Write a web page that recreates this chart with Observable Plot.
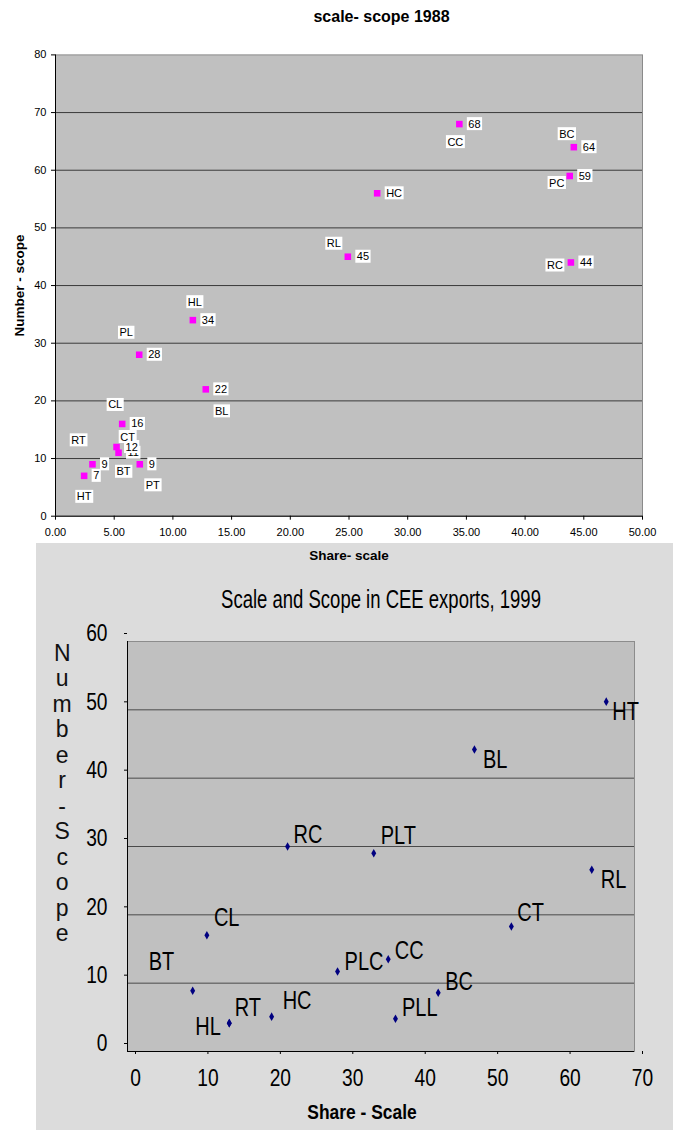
<!DOCTYPE html>
<html>
<head>
<meta charset="utf-8">
<script src="https://cdn.jsdelivr.net/npm/d3@7"></script>
<script src="https://cdn.jsdelivr.net/npm/@observablehq/plot@0.6"></script>
<style>
  html, body { margin: 0; padding: 0; background: #ffffff; }
  #wrap { position: relative; width: 673px; height: 1130px; overflow: hidden; font-family: "Liberation Sans", Arial, sans-serif; }
  #bottom { position: absolute; left: 36px; top: 543px; width: 637px; height: 587px; }
  #topchart { position: absolute; left: 0; top: 0; width: 673px; height: 570px; }
</style>
</head>
<body>
<div id="wrap">
  <div id="bottom"></div>
  <div id="topchart"></div>
</div>
<script>
// ---------- 1988 chart data ----------
const cats88   = ["HT", "RT", "CL", "BT", "CT", "PT", "PL", "HL", "BL", "RL", "HC", "CC", "BC", "PC", "RC"];
const share88  = [2.44, 3.15, 5.68, 5.37, 5.2, 7.18, 7.13, 11.7, 12.8, 24.9, 27.4, 34.4, 44.15, 43.8, 43.9];
const scope88  = [7, 9, 16, 11, 12, 9, 28, 34, 22, 45, 56, 68, 64, 59, 44];
const numLabel88 = ["7", "9", "16", "11", "12", "9", "28", "34", "22", "45", "HC", "68", "64", "59", "44"];
const xTicks88 = [0, 5, 10, 15, 20, 25, 30, 35, 40, 45, 50];
const yTicks88 = [0, 10, 20, 30, 40, 50, 60, 70, 80];

// ---------- 1999 chart data ----------
const cats99  = ["HT", "BL", "RC", "PLT", "RL", "CL", "CT", "BT", "PLC", "CC", "HL", "RT", "HC", "PLL", "BC"];
const share99 = [66.1, 47.9, 22.1, 34.0, 64.1, 10.96, 53.0, 9.0, 29.0, 36.0, 14.05, 14.05, 19.9, 37.0, 42.9];
const scope99 = [51.2, 44.2, 30.0, 29.0, 26.6, 17.0, 18.3, 8.9, 11.7, 13.5, 4.15, 4.15, 5.1, 4.8, 8.6];
const xTicks99 = [0, 10, 20, 30, 40, 50, 60, 70];
const yTicks99 = [0, 10, 20, 30, 40, 50, 60];

// ---------- label placement (pixel offsets, layout only) ----------
const catOffset88 = {
  HT: [0, 21], RT: [-14, -24], CL: [-7, -19], BT: [5, 19], CT: [11, -10], PT: [13, 21],
  PL: [-13, -22], HL: [2, -18], BL: [16, 22], RL: [-14, -13], CC: [-4, 18], BC: [-7, -13],
  PC: [-13, 7], RC: [-16, 3]
};
const catOffset99 = {
  HT: [6, 10], BL: [8.6, 11], RC: [6, -12], PLT: [7, -17], RL: [9, 10], CL: [7, -17],
  CT: [6, -13], BT: [-44, -29], PLC: [7, -10], CC: [6.5, -8], HL: [-34, 4], RT: [5.5, -15],
  HC: [11, -16], PLL: [6.5, -10.6], BC: [7, -10.6]
};

const d88 = cats88.map((c, i) => ({cat: c, share: share88[i], scope: scope88[i], num: numLabel88[i]}));
const d99 = cats99.map((c, i) => ({cat: c, share: share99[i], scope: scope99[i]}));

const FONT = "'Liberation Sans', Arial, Helvetica, sans-serif";

// ---------- Top chart ----------
const catMarks88 = d88.filter(d => catOffset88[d.cat]).map(d =>
  Plot.text([d], {
    x: "share", y: "scope", text: "cat",
    dx: catOffset88[d.cat][0], dy: catOffset88[d.cat][1],
    textAnchor: "middle", lineAnchor: "middle", fontSize: 11, fill: "#000",
    className: "boxed"
  })
);

const chart88 = Plot.plot({
  width: 673, height: 570,
  marginLeft: 55, marginRight: 31, marginTop: 54.4, marginBottom: 54.3,
  style: {background: "transparent", fontFamily: FONT, fontSize: "11px", color: "#000"},
  x: {domain: [0, 50]},
  y: {domain: [0, 80]},
  marks: [
    Plot.frame({fill: "#c0c0c0", stroke: "#8a8a8a"}),
    Plot.ruleY(yTicks88.filter(v => v > 0 && v < 80), {stroke: "#3a3a3a", strokeWidth: 1}),
    Plot.ruleX([0], {stroke: "#000"}),
    Plot.ruleY([0], {stroke: "#000"}),
    Plot.axisX({ticks: xTicks88, tickFormat: d => d.toFixed(2), tickSize: 4, tickPadding: 8, label: null}),
    Plot.axisY({ticks: yTicks88, tickSize: 4, tickPadding: 5, label: null}),
    Plot.dot(d88, {x: "share", y: "scope", symbol: "square", r: 3.7, fill: "#ff00ff", stroke: "none"}),
    Plot.text(d88, {x: "share", y: "scope", text: "num", textAnchor: "start", lineAnchor: "middle",
      dx: 9, fontSize: 11, fill: "#000", className: "boxed"}),
    ...catMarks88,
    Plot.text(["scale- scope 1988"], {text: d => d, frameAnchor: "top", dx: 32.5, dy: -38.4,
      lineAnchor: "middle", fontSize: 16, fontWeight: "bold", fill: "#000"}),
    Plot.text(["Share- scale"], {text: d => d, frameAnchor: "bottom", dy: 39.3,
      lineAnchor: "middle", fontSize: 13.5, fontWeight: "bold", fill: "#000"}),
    Plot.text(["Number - scope"], {text: d => d, frameAnchor: "left", dx: -35.5, dy: 0, rotate: -90,
      lineAnchor: "middle", textAnchor: "middle", fontSize: 13.5, fontWeight: "bold", fill: "#000"})
  ]
});

// ---------- Bottom chart ----------
const catMarks99 = d99.map(d =>
  Plot.text([d], {
    x: "share", y: "scope", text: "cat",
    dx: catOffset99[d.cat][0], dy: catOffset99[d.cat][1],
    textAnchor: "start", lineAnchor: "middle", fontSize: 25, fill: "#000"
  })
);

const chart99 = Plot.plot({
  width: 637, height: 587,
  marginLeft: 91, marginRight: 39, marginTop: 98, marginBottom: 79,
  style: {background: "#dcdcdc", fontFamily: FONT, fontSize: "24px", color: "#000"},
  x: {domain: [0, 70]},
  y: {domain: [0, 60]},
  marks: [
    Plot.frame({fill: "#c0c0c0", stroke: "#8c8c8c"}),
    Plot.ruleY(yTicks99.filter(v => v > 0 && v < 60), {stroke: "#4a4a4a", strokeWidth: 1}),
    Plot.ruleX([0], {stroke: "#000"}),
    Plot.ruleY([0], {stroke: "#000"}),
    Plot.axisX({ticks: xTicks99, tickSize: 3, tickPadding: 14, dx: 8, label: null}),
    Plot.axisY({ticks: yTicks99, tickSize: 3, tickPadding: 17, dy: -8, label: null}),
    Plot.dot(d99, {x: "share", y: "scope", symbol: "diamond", r: 2.6, fill: "#000080", stroke: "none"}),
    ...catMarks99,
    Plot.text(["Scale and Scope in CEE exports, 1999"], {text: d => d, frameAnchor: "top", dy: -42,
      lineAnchor: "middle", fontSize: 25, fill: "#000", className: "sq74"}),
    Plot.text(["Share - Scale"], {text: d => d, frameAnchor: "bottom", dx: -19, dy: 61,
      lineAnchor: "middle", fontSize: 20, fontWeight: "bold", fill: "#000", className: "sq87"}),
    Plot.text(["Number-Scope"], {text: d => d.split("").join("\n"), frameAnchor: "left", dx: -65.3, dy: -53.5,
      lineAnchor: "middle", textAnchor: "middle", lineHeight: 25.5 / 23, fontSize: 23, fill: "#111", className: "nosq"})
  ]
});

document.getElementById("topchart").appendChild(chart88);
document.getElementById("bottom").appendChild(chart99);

// white boxes behind 1988 labels
d3.select(chart88).selectAll("g.boxed text").each(function() {
  const b = this.getBBox();
  const r = document.createElementNS("http://www.w3.org/2000/svg", "rect");
  r.setAttribute("x", b.x - 1.5);
  r.setAttribute("y", b.y - 0.5);
  r.setAttribute("width", b.width + 3);
  r.setAttribute("height", b.height + 1);
  r.setAttribute("fill", "#ffffff");
  const t = this.getAttribute("transform");
  if (t) r.setAttribute("transform", t);
  this.parentNode.insertBefore(r, this);
});

// condensed look of the 1999 chart text
function squish(sel, f) {
  sel.each(function() {
    const L = this.getComputedTextLength();
    if (L > 0) {
      this.setAttribute("textLength", L * f);
      this.setAttribute("lengthAdjust", "spacingAndGlyphs");
    }
  });
}
d3.select(chart99).selectAll("text").filter(function() {
  return !this.closest("g.nosq") && !this.closest("g.sq74") && !this.closest("g.sq87");
}).call(squish, 0.8);
d3.select(chart99).selectAll("g.sq74 text").call(squish, 0.74);
d3.select(chart99).selectAll("g.sq87 text").call(squish, 0.87);
</script>
</body>
</html>
